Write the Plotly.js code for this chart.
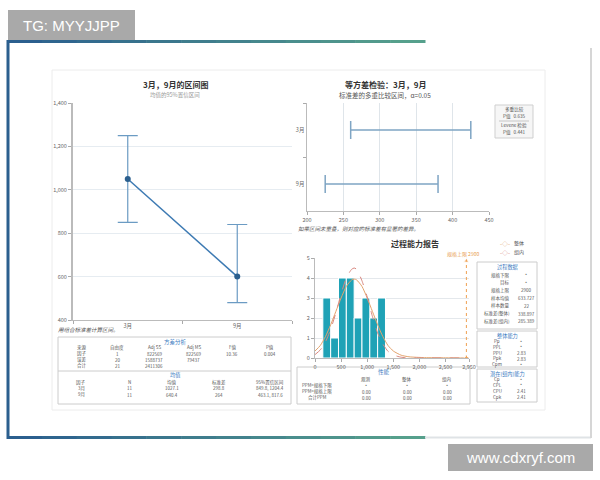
<!DOCTYPE html>
<html><head><meta charset="utf-8">
<script src="https://cdn.plot.ly/plotly-3.0.1.min.js"></script>
<style>html,body{margin:0;padding:0;background:#fff}#chart{width:600px;height:480px}</style>
</head><body><div id="chart"></div>
<script>
// ---- Interval plot (3月, 9月) ----
const months = ['3月', '9月'];
const intervalMean = [1050, 600];
const intervalLow = [850, 480];
const intervalHigh = [1250, 840];

// ---- Equal variances test ----
const sdCats = ['3月', '9月'];
const sdLow = [260, 225];
const sdHigh = [425, 380];
const multiCompP = '0.635';
const leveneP = '0.441';

// ---- Process capability histogram ----
const binCenters = [225, 375, 525, 675, 825, 975, 1125, 1275];
const binCounts = [3, 1, 4, 4, 2, 3, 2, 3];
const binWidth = 150;
const overallX = [0, 100, 200, 300, 400, 500, 600, 700, 750, 800, 900, 1000, 1100, 1200, 1300, 1400, 1500, 1650, 1800, 2100, 2500, 2950];
const overallY = [0.35, 0.62, 1.07, 1.66, 2.33, 3.0, 3.58, 3.9, 3.95, 3.9, 3.58, 3.0, 2.33, 1.66, 1.07, 0.62, 0.35, 0.14, 0.06, 0.02, 0.01, 0];
const withinX = [0, 100, 200, 300, 400, 500, 600, 700, 750, 800, 900, 1000, 1100, 1200, 1300, 1400, 1500, 1650, 1800, 2100, 2950];
const withinY = [0.17, 0.4, 0.8, 1.43, 2.26, 3.2, 4.0, 4.43, 4.5, 4.43, 3.86, 3.05, 2.08, 1.25, 0.7, 0.33, 0.15, 0.04, 0.01, 0, 0];
const usl = 2900;
const histTicks = [0, 500, 1000, 1500, 2000, 2500, 2950];
const histTickText = ['0', '500', '1,000', '1,500', '2,000', '2,500', '2,950'];

// ---- Tables ----
const anovaCols = ['来源', '自由度', 'Adj SS', 'Adj MS', 'F值', 'P值'];
const anovaRows = [['因子', '1', '822569', '822569', '10.36', '0.004'],
                   ['误差', '20', '1588737', '79437', '', ''],
                   ['合计', '21', '2411306', '', '', '']];
const meansCols = ['因子', 'N', '均值', '标准差', '95%置信区间'];
const meansRows = [['3月', '11', '1027.1', '298.8', '849.8, 1204.4'],
                   ['9月', '11', '640.4', '264', '463.1, 817.6']];
const perfCols = ['', '观测', '整体', '组内'];
const perfRows = [['PPM<规格下限', '*', '*', '*'],
                  ['PPM>规格上限', '0.00', '0.00', '0.00'],
                  ['合计PPM', '0.00', '0.00', '0.00']];
const processData = [['规格下限', '*'], ['目标', '*'], ['规格上限', '2900'], ['样本均值', '633.727'],
                     ['样本数量', '22'], ['标准差(整体)', '338.897'], ['标准差(组内)', '285.389']];
const overallCap = [['Pp', '*'], ['PPL', '*'], ['PPU', '2.83'], ['Ppk', '2.83'], ['Cpm', '*']];
const withinCap = [['Cp', '*'], ['CPL', '*'], ['CPU', '2.41'], ['Cpk', '2.41']];

// ---- helpers ----
const W = 600, H = 480;
const X = px => px / W;
const Y = py => 1 - py / H;
const FONT = 'Noto Sans CJK SC, Noto Sans, sans-serif';
const ann = [];
const shapes = [];
function txt(x, y, text, size, color, opts) {
  ann.push(Object.assign({
    xref: 'paper', yref: 'paper', x: X(x), y: Y(y), text: text, showarrow: false,
    xanchor: 'center', yanchor: 'middle', borderpad: 0,
    font: {size: size, color: color, family: FONT}
  }, opts || {}));
}
function rect(x0, y0, x1, y1, line, fill, lw) {
  shapes.push({type: 'rect', xref: 'paper', yref: 'paper', x0: X(x0), x1: X(x1), y0: Y(y1), y1: Y(y0),
    line: {color: line, width: lw === undefined ? 1 : lw}, fillcolor: fill || 'rgba(0,0,0,0)', layer: 'below'});
}
function hline(x0, x1, y, color, w) {
  shapes.push({type: 'line', xref: 'paper', yref: 'paper', x0: X(x0), x1: X(x1), y0: Y(y), y1: Y(y), line: {color: color, width: w}});
}
function vline(x, y0, y1, color, w) {
  shapes.push({type: 'line', xref: 'paper', yref: 'paper', x0: X(x), x1: X(x), y0: Y(y0), y1: Y(y1), line: {color: color, width: w}});
}

// ---- frame & watermarks ----
rect(52, 70, 545, 410, '#ececec', '#ffffff', 1);
function grad(t) {
  const a = [43, 95, 142], b = [86, 160, 140];
  const c = a.map((v, i) => Math.round(v + (b[i] - v) * t));
  return 'rgb(' + c.join(',') + ')';
}
const nSeg = 12;
for (let i = 0; i < nSeg; i++) {
  const x0 = 7 + (425 - 7) * i / nSeg, x1 = 7 + (425 - 7) * (i + 1) / nSeg;
  hline(x0, x1 + 0.5, 41.5, grad(i / (nSeg - 1)), 3);
  hline(x0, x1 + 0.5, 437.5, grad(i / (nSeg - 1)), 3);
}
hline(425, 591, 437.5, '#dfe3e6', 2);
vline(8, 40, 439, '#2b5f8e', 3);
vline(591, 48, 438, '#d6d6d6', 2);
rect(8, 10, 135, 40, 'rgba(0,0,0,0)', '#a9a9a9', 0);
txt(71, 25, 'TG: MYYJJPP', 15, '#ffffff', {font: {size: 15, color: '#ffffff', family: 'Liberation Sans, Arial, sans-serif'}});
rect(448, 444, 593, 471, 'rgba(0,0,0,0)', '#a9a9a9', 0);
txt(520, 457, 'www.cdxryf.com', 15, '#ffffff', {font: {size: 15, color: '#ffffff', family: 'Liberation Sans, Arial, sans-serif'}});

// ---- titles & notes ----
txt(175, 84, '<b>3月，9月的区间图</b>', 8, '#333');
txt(175, 95, '均值的95%置信区间', 5.5, '#999');
txt(385, 84, '<b>等方差检验：3月，9月</b>', 8, '#333');
txt(385, 95, '标准差的多重比较区间，α=0.05', 6.5, '#555');
txt(57, 330, '<i>用组合标准差计算区间。</i>', 5.5, '#555', {xanchor: 'left'});
txt(297, 229, '<i>如果区间未重叠，则对应的标准差有显著的差异。</i>', 5.5, '#555', {xanchor: 'left'});
txt(415, 243, '<b>过程能力报告</b>', 8, '#333');

// info box (equal variances)
rect(495, 105, 533, 138, '#cfcfcf', '#f6f6f6', 1);
txt(514, 110, '多重比较', 4.6, '#555');
txt(514, 116, 'P值   ' + multiCompP, 4.6, '#555');
hline(499, 529, 121, '#bbbbbb', 0.8);
txt(514, 126, 'Levene 检验', 4.6, '#555');
txt(514, 132, 'P值   ' + leveneP, 4.6, '#555');

// legend for capability curves
txt(505, 243, '-◇-', 6, '#e3a36d');
txt(519, 243, '整体', 5, '#555');
txt(505, 252, '-◇-', 6, '#d98880');
txt(519, 252, '组内', 5, '#555');
txt(463, 254, '规格上限 ' + usl, 5, '#e8a050');

// ---- left tables ----
const BLUE = '#3a7bbf', TC = '#555', FS = 4.5;
rect(58, 337, 291, 404, '#cccccc', '#ffffff', 1);
hline(58, 291, 371, '#cccccc', 1);
txt(175, 341.5, '方差分析', 5.5, BLUE);
const anovaX = [82, 117, 154, 194, 232, 270];
anovaCols.forEach((c, i) => txt(anovaX[i], 347.5, c, FS, TC));
anovaRows.forEach((r, j) => r.forEach((v, i) => { if (v) txt(anovaX[i], 353.5 + j * 6, v, FS, TC); }));
txt(175, 374.8, '均值', 5.2, BLUE);
const meansX = [81, 129, 172, 219, 270];
meansCols.forEach((c, i) => txt(meansX[i], 382, c, FS, TC));
meansRows.forEach((r, j) => r.forEach((v, i) => txt(meansX[i], 388.3 + j * 6.3, v, FS, TC)));

// performance table
rect(297, 367, 470, 404, '#cccccc', '#ffffff', 1);
txt(384, 372, '性能', 5.5, BLUE);
const perfX = [317, 366, 407, 447];
perfCols.forEach((c, i) => { if (c) txt(perfX[i], 379, c, FS, TC); });
perfRows.forEach((r, j) => r.forEach((v, i) => txt(perfX[i], 385.5 + j * 6.2, v, FS, TC)));

// right side capability boxes
rect(477, 262, 537, 329, '#cccccc', '#ffffff', 1);
txt(507, 267, '过程数据', 5.2, BLUE);
processData.forEach((r, j) => {
  txt(511, 275 + j * 7.7, r[0], FS, TC, {xanchor: 'right'});
  txt(526, 275 + j * 7.7, r[1], FS, TC);
});
rect(477, 331, 537, 367, '#cccccc', '#ffffff', 1);
txt(507, 335.5, '整体能力', 5.2, BLUE);
overallCap.forEach((r, j) => {
  txt(497, 341.5 + j * 5.8, r[0], FS, TC);
  txt(521, 341.5 + j * 5.8, r[1], FS, TC);
});
rect(477, 369, 537, 402, '#cccccc', '#ffffff', 1);
txt(507, 373.5, '潜在(组内)能力', 5.2, BLUE);
withinCap.forEach((r, j) => {
  txt(497, 379.5 + j * 5.9, r[0], FS, TC);
  txt(521, 379.5 + j * 5.9, r[1], FS, TC);
});

// ---- traces ----
const traces = [
  {
    type: 'scatter', mode: 'lines+markers', x: months, y: intervalMean, xaxis: 'x', yaxis: 'y',
    line: {color: '#3d7ab3', width: 1.5}, marker: {color: '#2b5f8e', size: 6},
    error_y: {type: 'data', symmetric: false,
      array: intervalHigh.map((h, i) => h - intervalMean[i]),
      arrayminus: intervalLow.map((l, i) => intervalMean[i] - l),
      color: '#6b9bc3', thickness: 1.2, width: 10}
  },
  {
    type: 'scatter', mode: 'markers', x: sdLow.map((l, i) => (l + sdHigh[i]) / 2), y: sdCats, xaxis: 'x2', yaxis: 'y2',
    marker: {size: 1, color: 'rgba(0,0,0,0)'},
    error_x: {type: 'data', symmetric: false,
      array: sdHigh.map((h, i) => h - (sdLow[i] + h) / 2),
      arrayminus: sdLow.map((l, i) => (l + sdHigh[i]) / 2 - l),
      color: '#7fa5c4', thickness: 1.5, width: 9}
  },
  {
    type: 'bar', x: binCenters, y: binCounts, width: binWidth, xaxis: 'x3', yaxis: 'y3',
    marker: {color: '#1fa2b6', line: {color: '#ffffff', width: 1}}
  },
  {
    type: 'scatter', mode: 'lines', x: overallX, y: overallY, xaxis: 'x3', yaxis: 'y3',
    line: {color: '#e3a36d', width: 1, shape: 'spline', smoothing: 0.6}
  },
  {
    type: 'scatter', mode: 'lines', x: withinX, y: withinY, xaxis: 'x3', yaxis: 'y3',
    line: {color: '#d98880', width: 1, dash: 'dash', shape: 'spline', smoothing: 0.6}
  },
  {
    type: 'scatter', mode: 'lines', x: [usl, usl], y: [0, 5], xaxis: 'x3', yaxis: 'y3',
    line: {color: '#f0a050', width: 1, dash: 'dot'}
  },
  {
    type: 'scatter', mode: 'markers', x: [usl, usl], y: [4.85, 0], xaxis: 'x3', yaxis: 'y3',
    marker: {color: '#f0a050', size: [5, 4], symbol: ['triangle-up', 'diamond']}
  }
];

const tickFont = {size: 5.5, color: '#666', family: FONT};
const layout = {
  width: W, height: H, margin: {l: 0, r: 0, t: 0, b: 0},
  paper_bgcolor: '#ffffff', plot_bgcolor: 'rgba(0,0,0,0)', showlegend: false,
  font: {family: FONT},
  xaxis: {domain: [X(73), X(292)], anchor: 'y', type: 'category', range: [-0.5, 1.5],
    tickson: 'boundaries', ticks: 'outside', ticklen: 3, tickcolor: '#aaa',
    showline: true, linecolor: '#bbb', linewidth: 1, showgrid: false, tickfont: tickFont, zeroline: false},
  yaxis: {domain: [Y(320), Y(103)], anchor: 'x', range: [400, 1400], dtick: 200, tickformat: ',',
    ticks: 'outside', ticklen: 3, tickcolor: '#aaa', showline: true, linecolor: '#bbb', linewidth: 2,
    gridcolor: '#e6ecf1', tickfont: tickFont, zeroline: false},
  xaxis2: {domain: [X(307), X(489)], anchor: 'y2', range: [200, 450], dtick: 50,
    ticks: 'outside', ticklen: 3, tickcolor: '#aaa', showline: true, linecolor: '#bbb',
    gridcolor: '#dfe5ea', tickfont: tickFont, zeroline: false},
  yaxis2: {domain: [Y(211), Y(103)], anchor: 'x2', type: 'category', categoryorder: 'array',
    categoryarray: ['9月', '3月'], range: [-0.5, 1.5], tickson: 'boundaries', ticks: 'outside', ticklen: 3,
    tickcolor: '#aaa', showline: true, linecolor: '#bbb', linewidth: 1.5, showgrid: false, tickfont: tickFont},
  xaxis3: {domain: [X(315), X(469)], anchor: 'y3', range: [0, 2950], tickvals: histTicks, ticktext: histTickText,
    ticks: 'outside', ticklen: 3, tickcolor: '#aaa', showline: true, linecolor: '#bbb', showgrid: false,
    tickfont: tickFont, zeroline: false},
  yaxis3: {domain: [Y(358), Y(258)], anchor: 'x3', range: [0, 5], dtick: 1,
    ticks: 'outside', ticklen: 3, tickcolor: '#aaa', showline: true, linecolor: '#bbb',
    gridcolor: '#e4e8ec', tickfont: tickFont, zeroline: false},
  bargap: 0,
  annotations: ann,
  shapes: shapes
};
Plotly.newPlot('chart', traces, layout, {staticPlot: true, displayModeBar: false});
</script>
</body></html>
